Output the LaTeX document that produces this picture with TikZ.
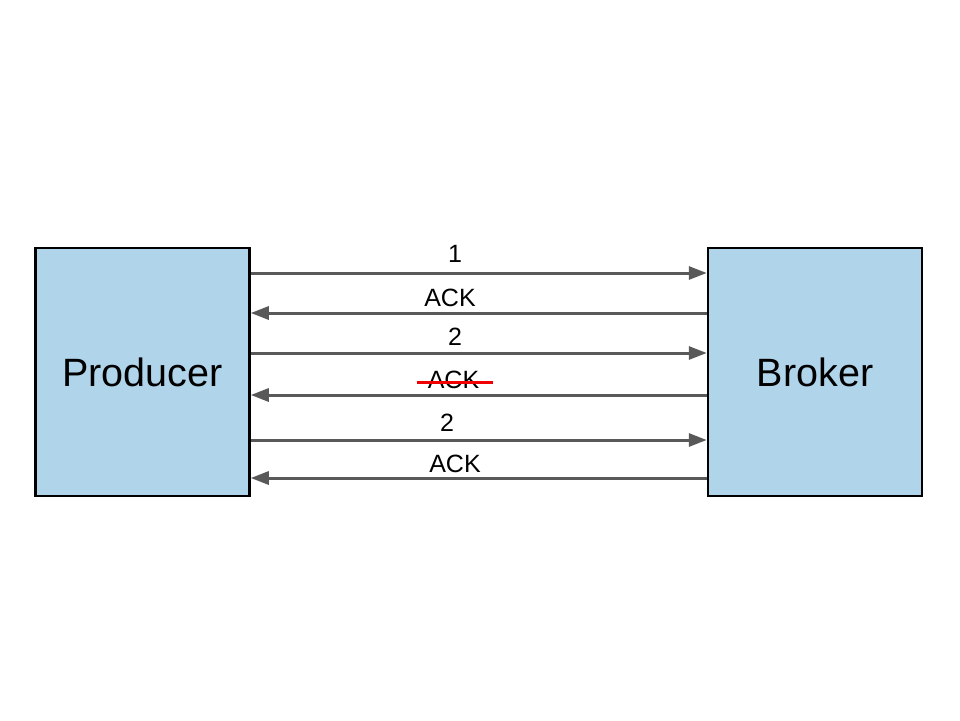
\documentclass[tikz,border=0pt]{standalone}
\usepackage{fontspec}
\setmainfont{Liberation Sans}
\usetikzlibrary{arrows.meta}
\definecolor{boxblue}{RGB}{176,212,234}
\definecolor{msggray}{RGB}{89,89,89}
\definecolor{strikered}{RGB}{240,0,0}
\begin{document}
\begin{tikzpicture}[x=1pt,y=-1pt,
  party/.style={draw=black,line width=2.5pt,fill=boxblue,minimum width=214pt,
    minimum height=248pt,inner sep=0pt,font=\fontsize{39.5}{46}\selectfont},
  msg/.style={draw=msggray,line width=3pt,-{Triangle[length=18pt,width=13pt]}},
  lbl/.style={inner sep=0pt,font=\fontsize{25}{30}\selectfont}]
\useasboundingbox (0,0) rectangle (960,720);
\node[party] (prod) at (142.5,372) {Producer};
\node[party] (brok) at (815,372) {Broker};
% message rows
\coordinate (r1) at (0,273);
\coordinate (r2) at (0,313);
\coordinate (r3) at (0,353);
\coordinate (r4) at (0,395);
\coordinate (r5) at (0,440);
\coordinate (r6) at (0,478);
\draw[msg] (prod.east |- r1) -- (brok.west |- r1);
\draw[msg] (brok.west |- r2) -- (prod.east |- r2);
\draw[msg] (prod.east |- r3) -- (brok.west |- r3);
\draw[msg] (brok.west |- r4) -- (prod.east |- r4);
\draw[msg] (prod.east |- r5) -- (brok.west |- r5);
\draw[msg] (brok.west |- r6) -- (prod.east |- r6);
% labels
\node[lbl] (l1) at (455,254) {1};
\node[lbl] (l2) at (450,298) {ACK};
\node[lbl] (l3) at (455,337) {2};
\node[lbl] (l4) at (453.5,380) {ACK};
\node[lbl] (l5) at (447,423) {2};
\node[lbl] (l6) at (455,464) {ACK};
\draw[strikered,line width=3pt] ([xshift=-11pt]l4.west |- 0,382) -- ([xshift=14pt]l4.east |- 0,382);
\end{tikzpicture}
\end{document}
